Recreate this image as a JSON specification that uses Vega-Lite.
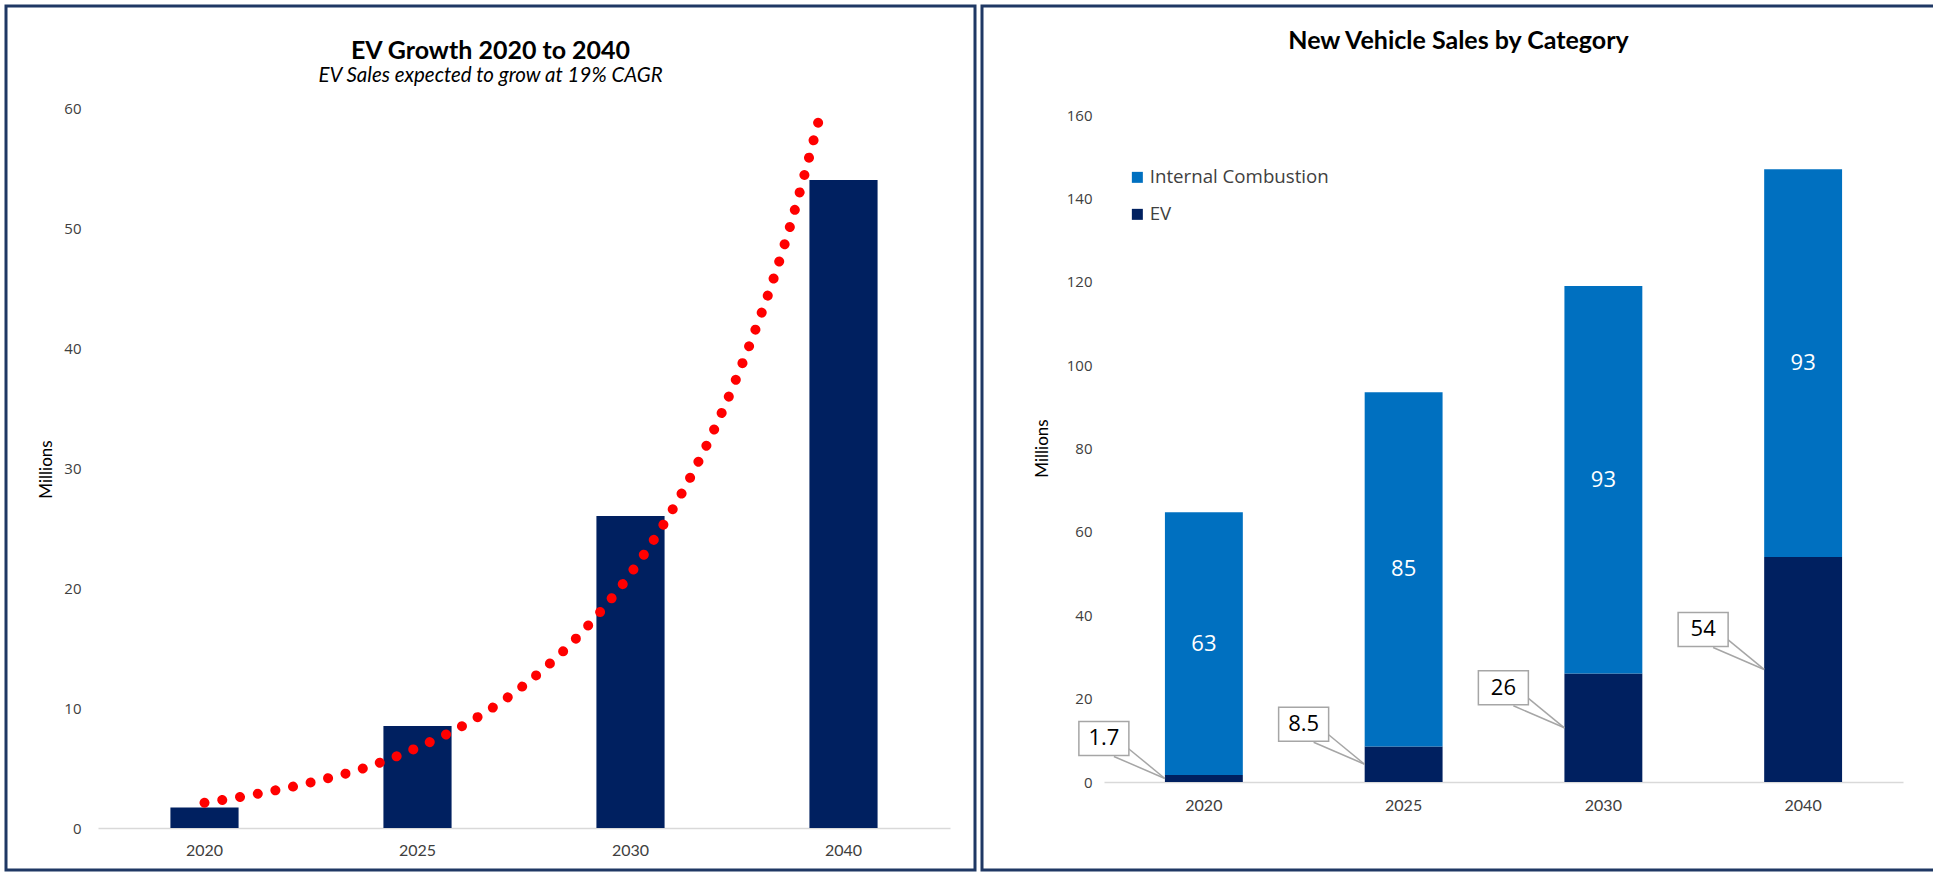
{
  "$schema": "https://vega.github.io/schema/vega-lite/v6.json",
  "padding": {"left": 4, "top": 4, "right": 0, "bottom": 0},
  "background": "white",
  "spacing": 3,
  "datasets": {
    "sales": [
      {"year": "2020", "category": "EV", "value": 1.7},
      {"year": "2020", "category": "Internal Combustion", "value": 63},
      {"year": "2025", "category": "EV", "value": 8.5},
      {"year": "2025", "category": "Internal Combustion", "value": 85},
      {"year": "2030", "category": "EV", "value": 26},
      {"year": "2030", "category": "Internal Combustion", "value": 93},
      {"year": "2040", "category": "EV", "value": 54},
      {"year": "2040", "category": "Internal Combustion", "value": 93}
    ],
    "trend": [
      {"pos": 1.0, "millions": 2.1},
      {"pos": 1.25, "millions": 2.85},
      {"pos": 1.5, "millions": 3.8},
      {"pos": 1.75, "millions": 5.0},
      {"pos": 2.0, "millions": 6.7},
      {"pos": 2.25, "millions": 8.9},
      {"pos": 2.5, "millions": 11.9},
      {"pos": 2.75, "millions": 15.9},
      {"pos": 3.0, "millions": 21.2},
      {"pos": 3.25, "millions": 28.2},
      {"pos": 3.5, "millions": 37.6},
      {"pos": 3.75, "millions": 50.2},
      {"pos": 3.89, "millions": 59.4}
    ]
  },
  "resolve": {"legend": {"color": "independent"}},
  "hconcat": [
    {
      "width": 969,
      "height": 864,
      "title": {
        "text": "EV Growth 2020 to 2040",
        "subtitle": "EV Sales expected to grow at 19% CAGR",
        "anchor": "middle",
        "frame": "group",
        "offset": -80,
        "font": "Lato",
        "fontSize": 25,
        "fontWeight": "bold",
        "color": "#000000",
        "subtitleFont": "Lato",
        "subtitleFontSize": 20.5,
        "subtitleFontStyle": "italic",
        "subtitleColor": "#000000",
        "subtitlePadding": 2
      },
      "layer": [
        {
          "data": {"name": "sales"},
          "transform": [{"filter": {"field": "category", "equal": "EV"}}],
          "mark": {"type": "bar", "color": "#002060"},
          "encoding": {
            "x": {
              "field": "year",
              "type": "ordinal",
              "scale": {"range": [92, 944], "paddingInner": 0.68, "paddingOuter": 0.34},
              "axis": {
                "title": null,
                "offset": -42,
                "domainColor": "#D9D9D9",
                "domainWidth": 1.5,
                "ticks": false,
                "labelAngle": 0,
                "labelPadding": 14,
                "labelFont": "Lato",
                "labelFontSize": 16,
                "labelColor": "#404040"
              }
            },
            "y": {
              "field": "value",
              "type": "quantitative",
              "scale": {"domain": [0, 60], "range": [822, 102], "nice": false, "zero": true},
              "axis": {
                "title": "Millions",
                "offset": -92,
                "domain": false,
                "ticks": false,
                "grid": false,
                "values": [0, 10, 20, 30, 40, 50, 60],
                "labelPadding": 17,
                "labelFont": "Open Sans",
                "labelFontSize": 15,
                "labelColor": "#404040",
                "titleFont": "Lato",
                "titleFontSize": 17,
                "titleFontWeight": "normal",
                "titleColor": "#000000",
                "titleAngle": -90,
                "titleX": -52,
                "titleY": 463,
                "titleAlign": "center",
                "titleBaseline": "middle"
              }
            }
          }
        },
        {
          "data": {"name": "trend"},
          "mark": {
            "type": "line",
            "color": "#FF0000",
            "strokeWidth": 10,
            "strokeCap": "round",
            "strokeDash": [0.01, 18],
            "interpolate": "monotone"
          },
          "encoding": {
            "x": {
              "field": "pos",
              "type": "quantitative",
              "scale": {"domain": [0.5, 4.5], "range": [92, 944], "nice": false, "zero": false},
              "axis": null
            },
            "y": {"field": "millions", "type": "quantitative", "title": "Millions"}
          }
        }
      ],
      "resolve": {"scale": {"x": "independent"}}
    },
    {
      "width": 953,
      "height": 864,
      "title": {
        "text": "New Vehicle Sales by Category",
        "anchor": "middle",
        "frame": "group",
        "offset": -48,
        "font": "Lato",
        "fontSize": 25,
        "fontWeight": "bold",
        "color": "#000000"
      },
      "data": {"name": "sales"},
      "layer": [
        {
          "mark": {"type": "bar"},
          "encoding": {
            "x": {
              "field": "year",
              "type": "ordinal",
              "scale": {"range": [122, 921], "paddingInner": 0.61, "paddingOuter": 0.305},
              "axis": {
                "title": null,
                "offset": -88,
                "domainColor": "#D9D9D9",
                "domainWidth": 1.5,
                "ticks": false,
                "labelAngle": 0,
                "labelPadding": 15,
                "labelFont": "Lato",
                "labelFontSize": 16,
                "labelColor": "#404040"
              }
            },
            "y": {
              "field": "value",
              "type": "quantitative",
              "stack": "zero",
              "scale": {"domain": [0, 160], "range": [776, 109], "nice": false},
              "axis": {
                "title": "Millions",
                "offset": -122,
                "domain": false,
                "ticks": false,
                "grid": false,
                "values": [0, 20, 40, 60, 80, 100, 120, 140, 160],
                "labelPadding": 12,
                "labelFont": "Open Sans",
                "labelFontSize": 15,
                "labelColor": "#404040",
                "titleFont": "Lato",
                "titleFontSize": 17,
                "titleFontWeight": "normal",
                "titleColor": "#000000",
                "titleAngle": -90,
                "titleX": -62,
                "titleY": 442,
                "titleAlign": "center",
                "titleBaseline": "middle"
              }
            },
            "color": {
              "field": "category",
              "type": "nominal",
              "scale": {"domain": ["Internal Combustion", "EV"], "range": ["#0070C0", "#002060"]},
              "legend": {
                "orient": "none",
                "legendX": 146,
                "legendY": 162,
                "title": null,
                "symbolType": "square",
                "symbolSize": 121,
                "symbolStrokeWidth": 0,
                "labelFont": "Open Sans",
                "labelFontSize": 18.7,
                "labelColor": "#404040",
                "labelLimit": 400,
                "labelOffset": 3,
                "rowPadding": 17,
                "padding": 0
              }
            },
            "order": {"field": "category", "sort": "ascending"}
          }
        },
        {
          "transform": [
            {"stack": "value", "groupby": ["year"], "sort": [{"field": "category", "order": "ascending"}], "as": ["v0", "v1"]},
            {"filter": {"field": "category", "equal": "Internal Combustion"}},
            {"fold": ["v0", "v1"], "as": ["edge", "pos"]},
            {"aggregate": [{"op": "mean", "field": "pos", "as": "mid"}, {"op": "max", "field": "value", "as": "label"}], "groupby": ["year"]}
          ],
          "mark": {"type": "text", "color": "#FFFFFF", "font": "Open Sans", "fontSize": 22, "align": "center", "baseline": "middle"},
          "encoding": {
            "x": {"field": "year", "type": "ordinal"},
            "y": {"field": "mid", "type": "quantitative", "title": "Millions"},
            "text": {"field": "label", "type": "nominal"}
          }
        },
        {
          "transform": [
            {"stack": "value", "groupby": ["year"], "sort": [{"field": "category", "order": "ascending"}], "as": ["v0", "v1"]},
            {"filter": {"field": "category", "equal": "EV"}},
            {"fold": ["v0", "v1"], "as": ["edge", "pos"]},
            {"aggregate": [{"op": "mean", "field": "pos", "as": "mid"}, {"op": "max", "field": "value", "as": "label"}], "groupby": ["year"]}
          ],
          "encoding": {
            "x": {"field": "year", "type": "ordinal"},
            "y": {"field": "mid", "type": "quantitative", "title": "Millions"}
          },
          "layer": [
            {
              "mark": {"type": "rule", "color": "#A6A6A6", "strokeWidth": 1.5, "xOffset": -78, "yOffset": -32, "x2Offset": -39},
              "encoding": {"x2": {"field": "year"}, "y2": {"field": "mid"}}
            },
            {
              "mark": {"type": "rule", "color": "#A6A6A6", "strokeWidth": 1.5, "xOffset": -90, "yOffset": -22, "x2Offset": -39},
              "encoding": {"x2": {"field": "year"}, "y2": {"field": "mid"}}
            },
            {
              "mark": {
                "type": "point",
                "shape": "M-1.25,-0.85H1.25V0.85H-1.25Z",
                "size": 1600,
                "filled": true,
                "fill": "#FFFFFF",
                "fillOpacity": 1,
                "opacity": 1,
                "stroke": "#A6A6A6",
                "strokeWidth": 1.5,
                "xOffset": -100,
                "yOffset": -40
              }
            },
            {
              "mark": {"type": "text", "color": "#000000", "font": "Open Sans", "fontSize": 22, "align": "center", "baseline": "middle", "xOffset": -100, "yOffset": -40},
              "encoding": {"text": {"field": "label", "type": "nominal"}}
            }
          ]
        }
      ]
    }
  ],
  "config": {
    "view": {"stroke": "#1F3864", "strokeWidth": 3},
    "font": "Lato"
  }
}
